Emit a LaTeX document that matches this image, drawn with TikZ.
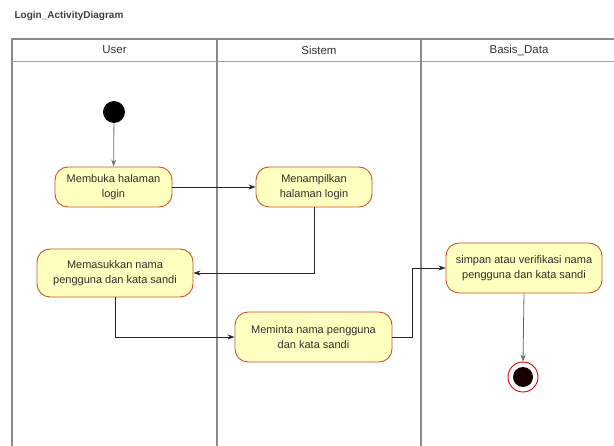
\documentclass[tikz,border=0pt]{standalone}
\usepackage{fontspec}
\setmainfont{Liberation Sans}
\usetikzlibrary{arrows.meta}
\definecolor{actfill}{HTML}{FFFFC0}
\definecolor{actline}{HTML}{D0502A}
\definecolor{laneline}{HTML}{8A8A8A}
\tikzset{
  activity/.style={draw=actline, fill=actfill, line width=0.9pt, rounded corners=13pt,
    align=center, font=\fontsize{11}{15}\selectfont, text=black!85!olive, inner sep=0pt},
  flow/.style={draw=black!85, line width=0.8pt, -{Stealth[length=7pt,width=5pt]}},
  lane/.style={draw=laneline, line width=1.3pt},
  lanehead/.style={font=\fontsize{11.5}{13}\selectfont, text=black!80},
}
\begin{document}
\begin{tikzpicture}[x=1pt,y=-1pt]
\useasboundingbox (0,0) rectangle (614,446);
\fill[white] (0,0) rectangle (614,446);

% title
\node[anchor=west, font=\bfseries\fontsize{10}{12}\selectfont, text=black!75] (title) at (11,16) {Login\_ActivityDiagram};

% swimlanes
\draw[lane] (12,446) -- (12,39) -- (616,39);
\draw[lane, line width=0.9pt, draw=laneline!80] (12,61) -- (616,61);
\draw[lane] (217,39) -- (217,446);
\draw[lane] (421,39) -- (421,446);
\node[lanehead] (hUser) at (114.5,50) {User};
\node[lanehead] (hSistem) at (319,50) {Sistem};
\node[lanehead] (hBasis) at (519,50) {Basis\_Data};

% activities
\node[circle, fill=black, minimum size=22pt, inner sep=0pt] (start) at (114,112) {};
\node[activity, minimum width=117pt, minimum height=40pt] (buka) at (113.5,187) {Membuka halaman\\login};
\node[activity, minimum width=116pt, minimum height=40pt] (tampil) at (314,187) {Menampilkan\\halaman login};
\node[activity, minimum width=156pt, minimum height=48pt] (masuk) at (115,273) {Memasukkan nama\\pengguna dan kata sandi};
\node[activity, minimum width=157pt, minimum height=50pt] (minta) at (313.5,337) {Meminta nama pengguna\\dan kata sandi};
\node[activity, minimum width=156pt, minimum height=50pt] (simpan) at (524,268) {simpan atau verifikasi nama\\pengguna dan kata sandi};
\node[circle, draw=red!85!black, line width=0.9pt, fill=white, minimum size=30pt, inner sep=0pt] (akhir) at (523,377) {};
\node[circle, fill=black!90!red, minimum size=20pt, inner sep=0pt] (akhirin) at (akhir) {};

% flows
\draw[flow, draw=black!55] (start) -- (buka);
\draw[flow] (buka) -- (tampil);
\draw[flow] (tampil.south) |- (masuk.east);
\draw[flow] (masuk.south) |- (minta.west);
\coordinate (bend) at (412,337);
\draw[flow] (minta.east) -- (bend) |- (simpan.west);
\draw[flow, draw=black!60] (simpan.south) -- (akhir.north);
\end{tikzpicture}
\end{document}
